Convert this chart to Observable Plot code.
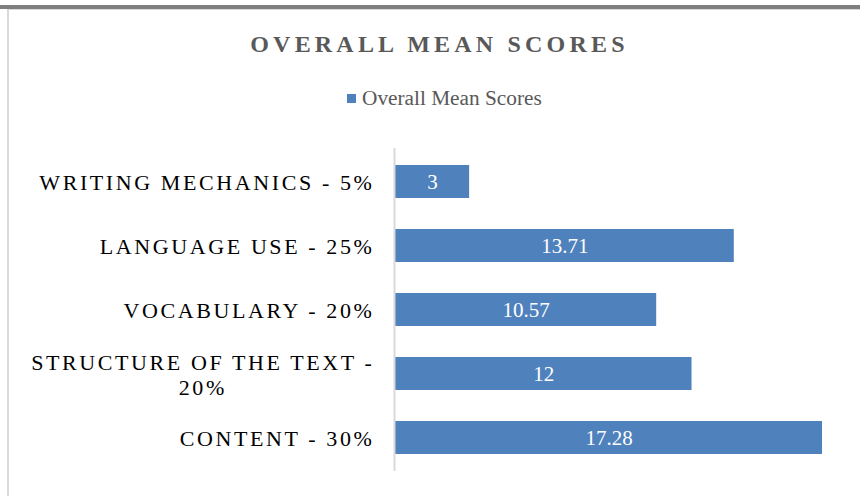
<!DOCTYPE html>
<html>
<head>
<meta charset="utf-8">
<script src="https://cdn.jsdelivr.net/npm/d3@7"></script>
<script src="https://cdn.jsdelivr.net/npm/@observablehq/plot@0.6"></script>
<style>
  html, body { margin: 0; padding: 0; background: #fff; }
  body { width: 860px; height: 496px; position: relative; overflow: hidden; font-family: "Liberation Serif", "Times New Roman", serif; }
  #topband { position: absolute; left: 0; top: 5px; width: 860px; height: 4px; background: #7f7f7f; }
  #frame { position: absolute; left: 7px; top: 9px; right: 0; bottom: 0; border-left: 2px solid #d9d9d9; border-top: 1px solid #d9d9d9; }
  #title { position: absolute; left: 0; top: 32px; width: 860px; box-sizing: border-box; padding-left: 19px; text-align: center;
           font-size: 24px; line-height: 24px; font-weight: bold; letter-spacing: 4.2px; color: #595959; white-space: nowrap; }
  #legend-swatch { position: absolute; left: 347px; top: 94px; width: 9px; height: 9px; background: #4F81BD; }
  #legend-text { position: absolute; left: 362px; top: 88px; font-size: 21.3px; line-height: 21px; color: #595959; white-space: nowrap; }
  #chart { position: absolute; left: 0; top: 120px; }
</style>
</head>
<body>
<div id="topband"></div>
<div id="frame"></div>
<div id="title">OVERALL MEAN SCORES</div>
<div id="legend-swatch"></div>
<div id="legend-text">Overall Mean Scores</div>
<div id="chart"></div>
<script>
const seriesName = "Overall Mean Scores";
const categories = ["WRITING MECHANICS - 5%", "LANGUAGE USE - 25%", "VOCABULARY - 20%", "STRUCTURE OF THE TEXT - 20%", "CONTENT - 30%"];
const categoryLabels = ["WRITING MECHANICS - 5%", "LANGUAGE USE - 25%", "VOCABULARY - 20%", "STRUCTURE OF THE TEXT -\n20%", "CONTENT - 30%"];
const values = [3, 13.71, 10.57, 12, 17.28];

const data = categories.map((c, i) => ({category: c, value: values[i]}));
const labelOf = new Map(categories.map((c, i) => [c, categoryLabels[i]]));

const chart = Plot.plot({
  width: 860,
  height: 376,
  marginTop: 28,
  marginBottom: 25,
  marginLeft: 395,
  marginRight: 38,
  style: {fontFamily: "'Liberation Serif', 'Times New Roman', serif", background: "transparent", overflow: "visible"},
  x: {axis: null, domain: [0, d3.max(values)]},
  y: {domain: categories, paddingInner: 0.48, paddingOuter: 0.24, label: null},
  marks: [
    Plot.barX(data, {x: "value", y: "category", fill: "#4F81BD"}),
    Plot.ruleX([0], {stroke: "#d9d9d9", strokeWidth: 2, dx: -1}),
    Plot.text(data, {x: d => d.value / 2, y: "category", text: d => String(d.value), fill: "#ffffff", fontSize: 21}),
    Plot.axisY({tickSize: 0, tickPadding: 21, fontSize: 22, fill: "#000", lineHeight: 1.14, tickFormat: d => labelOf.get(d), label: null})
  ]
});
document.getElementById("chart").appendChild(chart);

// letter-spaced category labels; centre the wrapped label like the original
d3.select(chart).selectAll('g[aria-label="y-axis tick label"] text').each(function() {
  const t = d3.select(this);
  t.style("letter-spacing", "2.6px");
  const spans = t.selectAll("tspan").nodes();
  if (spans.length > 1) {
    const w = d3.max(spans, s => s.getComputedTextLength());
    t.attr("text-anchor", "middle");
    const tr = t.attr("transform") || "";
    t.attr("transform", tr + ` translate(${-w / 2},0)`);
  }
});
</script>
</body>
</html>
